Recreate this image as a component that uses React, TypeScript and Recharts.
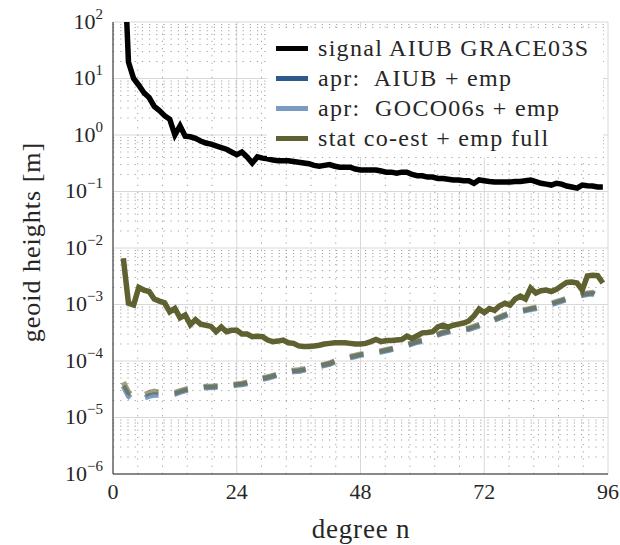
import React from "react";
import {
  LineChart,
  Line,
  XAxis,
  YAxis,
  CartesianGrid,
  ReferenceLine,
} from "recharts";

// spherical harmonic degree
const degrees = Array.from({ length: 94 }, (_, i) => i + 2);

// signal AIUB GRACE03S
const signalAiub = [
  3000, 19.5, 10, 7.6, 5.6, 4.6, 3.2, 2.7, 2.2, 1.9,
  1.0, 1.45, 0.95, 0.93, 0.87, 0.78, 0.72, 0.69, 0.64, 0.6,
  0.56, 0.5, 0.45, 0.5, 0.41, 0.32, 0.41, 0.39, 0.38, 0.36,
  0.35, 0.35, 0.35, 0.34, 0.33, 0.32, 0.31, 0.29, 0.28, 0.29,
  0.3, 0.28, 0.27, 0.27, 0.27, 0.25, 0.24, 0.24, 0.24, 0.24,
  0.23, 0.22, 0.22, 0.21, 0.22, 0.22, 0.2, 0.19, 0.19, 0.18,
  0.18, 0.17, 0.17, 0.165, 0.16, 0.16, 0.155, 0.155, 0.14, 0.16,
  0.155, 0.15, 0.148, 0.148, 0.148, 0.148, 0.15, 0.15, 0.155, 0.16,
  0.15, 0.14, 0.135, 0.13, 0.14, 0.135, 0.125, 0.12, 0.115, 0.13,
  0.126, 0.125, 0.12, 0.12,
];

// stat co-est + emp full (difference)
const statCoEst = [
  6.6e-3, 1.05e-3, 9.8e-4, 2.0e-3, 1.8e-3, 1.7e-3, 1.25e-3, 1.15e-3, 1.07e-3, 7.4e-4,
  8.5e-4, 5.8e-4, 6.5e-4, 4.4e-4, 5.4e-4, 4.5e-4, 4.3e-4, 4.1e-4, 3.3e-4, 4.0e-4,
  3.3e-4, 3.5e-4, 3.5e-4, 3.0e-4, 3.0e-4, 2.7e-4, 2.75e-4, 2.7e-4, 2.35e-4, 2.2e-4,
  2.25e-4, 2.35e-4, 2.1e-4, 2.05e-4, 1.85e-4, 1.8e-4, 1.8e-4, 1.85e-4, 1.9e-4, 2.0e-4,
  2.05e-4, 2.1e-4, 2.1e-4, 2.1e-4, 2.05e-4, 2.0e-4, 2.0e-4, 2.05e-4, 2.2e-4, 2.4e-4,
  2.2e-4, 2.3e-4, 2.3e-4, 2.35e-4, 2.4e-4, 2.75e-4, 2.5e-4, 2.8e-4, 3.15e-4, 3.2e-4,
  3.3e-4, 4.0e-4, 4.3e-4, 4.0e-4, 4.3e-4, 4.5e-4, 4.7e-4, 5.1e-4, 6.3e-4, 8.3e-4,
  7.2e-4, 8.5e-4, 7.9e-4, 9.5e-4, 1.05e-3, 9.8e-4, 1.25e-3, 1.4e-3, 1.25e-3, 1.95e-3,
  1.6e-3, 1.75e-3, 1.8e-3, 1.7e-3, 1.85e-3, 2.15e-3, 2.45e-3, 2.5e-3, 2.4e-3, 1.8e-3,
  3.2e-3, 3.3e-3, 3.25e-3, 2.4e-3,
];

// stat co-est formal errors (dashed)
const statFormal = [
  4.2e-5, 2.8e-5, 2.35e-5, 2.3e-5, 2.5e-5, 2.75e-5, 2.9e-5, 2.75e-5, 2.7e-5, 2.7e-5,
  2.75e-5, 2.95e-5, 3.15e-5, 3.3e-5, 3.4e-5, 3.45e-5, 3.55e-5, 3.55e-5, 3.6e-5, 3.6e-5,
  3.7e-5, 3.8e-5, 3.9e-5, 4.0e-5, 4.2e-5, 4.4e-5, 4.7e-5, 5.0e-5, 5.25e-5, 5.5e-5,
  5.9e-5, 6.2e-5, 6.5e-5, 6.8e-5, 6.9e-5, 7.2e-5, 7.6e-5, 7.9e-5, 8.3e-5, 8.7e-5,
  9.1e-5, 1.0e-4, 1.1e-4, 1.15e-4, 1.2e-4, 1.26e-4, 1.32e-4, 1.35e-4, 1.41e-4, 1.45e-4,
  1.51e-4, 1.58e-4, 1.66e-4, 1.74e-4, 1.86e-4, 1.95e-4, 2.1e-4, 2.24e-4, 2.35e-4, 2.57e-4,
  2.8e-4, 3.0e-4, 3.25e-4, 3.4e-4, 3.55e-4, 3.6e-4, 3.7e-4, 3.8e-4, 4.1e-4, 4.4e-4,
  4.7e-4, 5.0e-4, 5.5e-4, 6.0e-4, 6.6e-4, 7.1e-4, 7.4e-4, 7.8e-4, 8.1e-4, 8.5e-4,
  8.9e-4, 9.3e-4, 9.8e-4, 1.05e-3, 1.12e-3, 1.2e-3, 1.29e-3, 1.35e-3, 1.41e-3, 1.51e-3,
  1.58e-3, 1.62e-3, 1.45e-3, 1.2e-3,
];

// apr: GOCO06s + emp formal errors (dashed)
const gocoFormal = [
  3.6e-5, 2.4e-5, 2.0e-5, 2.0e-5, 2.2e-5, 2.4e-5, 2.5e-5, 2.5e-5, 2.5e-5, 2.55e-5,
  2.6e-5, 2.8e-5, 3.0e-5, 3.15e-5, 3.25e-5, 3.3e-5, 3.4e-5, 3.4e-5, 3.45e-5, 3.45e-5,
  3.55e-5, 3.65e-5, 3.75e-5, 3.85e-5, 4.0e-5, 4.2e-5, 4.5e-5, 4.8e-5, 5.0e-5, 5.3e-5,
  5.7e-5, 6.0e-5, 6.3e-5, 6.5e-5, 6.6e-5, 6.9e-5, 7.3e-5, 7.6e-5, 8.0e-5, 8.4e-5,
  8.8e-5, 9.6e-5, 1.05e-4, 1.1e-4, 1.15e-4, 1.2e-4, 1.27e-4, 1.3e-4, 1.36e-4, 1.4e-4,
  1.45e-4, 1.52e-4, 1.6e-4, 1.68e-4, 1.8e-4, 1.88e-4, 2.0e-4, 2.15e-4, 2.25e-4, 2.45e-4,
  2.7e-4, 2.9e-4, 3.1e-4, 3.25e-4, 3.4e-4, 3.45e-4, 3.55e-4, 3.65e-4, 3.9e-4, 4.2e-4,
  4.5e-4, 4.8e-4, 5.3e-4, 5.8e-4, 6.3e-4, 6.8e-4, 7.1e-4, 7.5e-4, 7.8e-4, 8.2e-4,
  8.5e-4, 8.9e-4, 9.4e-4, 1.0e-3, 1.07e-3, 1.15e-3, 1.23e-3, 1.3e-3, 1.35e-3, 1.45e-3,
  1.52e-3, 1.55e-3, 1.4e-3, 1.15e-3,
];

const xTicks = [0, 24, 48, 72, 96];
const xMinor = [4.8, 9.6, 14.4, 19.2, 28.8, 33.6, 38.4, 43.2, 52.8, 57.6, 62.4, 67.2, 76.8, 81.6, 86.4, 91.2];
const yTicks = [1e-6, 1e-5, 1e-4, 1e-3, 1e-2, 1e-1, 1, 10, 100];
const yMinor = yTicks.slice(0, -1).flatMap((d) => [2, 3, 4, 5, 6, 7, 8, 9].map((k) => k * d));

const legendItems = [
  { name: "signal AIUB GRACE03S", color: "#000000" },
  { name: "apr:  AIUB + emp", color: "#2e5a8b" },
  { name: "apr:  GOCO06s + emp", color: "#7b9cc2" },
  { name: "stat co-est + emp full", color: "#5f6130" },
];

const rows = degrees.map((n, i) => ({
  n,
  signal: signalAiub[i],
  stat: statCoEst[i],
  statFormal: statFormal[i],
  gocoFormal: gocoFormal[i],
}));

const FONT = "Liberation Serif, DejaVu Serif, serif";
const INK = "#262626";
const OLIVE = "#5f6130";

function PowTick({ x, y, payload }: any) {
  const e = Math.round(Math.log10(payload.value));
  return (
    <text x={x} y={y} dy={6.5} textAnchor="end" style={{ fontFamily: FONT }} fontSize={22} fill={INK}>
      10
      <tspan dy={-10} fontSize={15}>{e < 0 ? "\u2212" + -e : String(e)}</tspan>
    </text>
  );
}

function DegTick({ x, y, payload }: any) {
  return (
    <text x={x} y={y} dy={15} textAnchor="middle" style={{ fontFamily: FONT }} fontSize={22} fill={INK}>
      {payload.value}
    </text>
  );
}

export default function App() {
  return (
    <div style={{ position: "absolute", left: 0, top: 0, width: 620, height: 545, background: "#fff", fontFamily: FONT }}>
      <LineChart
        width={620}
        height={545}
        data={rows}
        margin={{ top: 22, right: 12, bottom: 0, left: 0 }}
      >
        {xMinor.map((v) => (
          <ReferenceLine key={"vx" + v} x={v} stroke="#a0a0a0" strokeDasharray="1.2 6" />
        ))}
        {yMinor.map((v) => (
          <ReferenceLine key={"hy" + v} y={v} stroke="#a0a0a0" strokeDasharray="1.2 6" />
        ))}
        <CartesianGrid stroke="#d8d8d8" />
        <XAxis
          dataKey="n"
          type="number"
          domain={[0, 96]}
          ticks={xTicks}
          height={71}
          tickLine={false}
          tickSize={6}
          tickMargin={4}
          axisLine={{ stroke: INK }}
          tick={<DegTick />}
          label={{
            value: "degree n",
            position: "insideBottom",
            content: () => (
              <text
                x={361}
                y={538}
                textAnchor="middle"
                style={{ fontFamily: FONT }}
                fontSize={27}
                letterSpacing={0.8}
                fill={INK}
              >
                degree n
              </text>
            ),
          }}
        />
        <YAxis
          scale="log"
          domain={[1e-6, 100]}
          allowDataOverflow
          ticks={yTicks}
          interval={0}
          width={113}
          tickLine={false}
          tickSize={6}
          tickMargin={4}
          axisLine={{ stroke: INK }}
          tick={<PowTick />}
          label={{
            value: "geoid heights [m]",
            position: "insideLeft",
            content: () => (
              <text
                x={40}
                y={242}
                transform="rotate(-90, 40, 242)"
                textAnchor="middle"
                style={{ fontFamily: FONT }}
                fontSize={26}
                letterSpacing={1}
                fill={INK}
              >
                geoid heights [m]
              </text>
            ),
          }}
        />
        <Line
          dataKey="gocoFormal"
          stroke="#7b9cc2"
          strokeWidth={5.5}
          strokeDasharray="14 16"
          dot={false}
          isAnimationActive={false}
        />
        <Line
          dataKey="statFormal"
          stroke={OLIVE}
          strokeOpacity={0.6}
          strokeWidth={5.5}
          strokeDasharray="14 16"
          dot={false}
          isAnimationActive={false}
        />
        <Line dataKey="stat" stroke={OLIVE} strokeWidth={5.5} dot={false} isAnimationActive={false} />
        <Line dataKey="signal" stroke="#000" strokeWidth={5.5} dot={false} isAnimationActive={false} />
      </LineChart>
      <div
        style={{
          position: "absolute",
          left: 267,
          top: 28,
          width: 336,
          height: 129,
          background: "#fff",
          boxSizing: "border-box",
          paddingTop: 5,
          fontFamily: FONT,
          fontSize: 24,
          letterSpacing: 1.3,
          color: INK,
        }}
      >
        {legendItems.map((it) => (
          <div key={it.name} style={{ display: "flex", alignItems: "center", height: 30 }}>
            <div style={{ width: 32, height: 5, background: it.color, marginLeft: 9, marginRight: 10 }} />
            <span style={{ whiteSpace: "pre", lineHeight: "30px" }}>{it.name}</span>
          </div>
        ))}
      </div>
    </div>
  );
}
